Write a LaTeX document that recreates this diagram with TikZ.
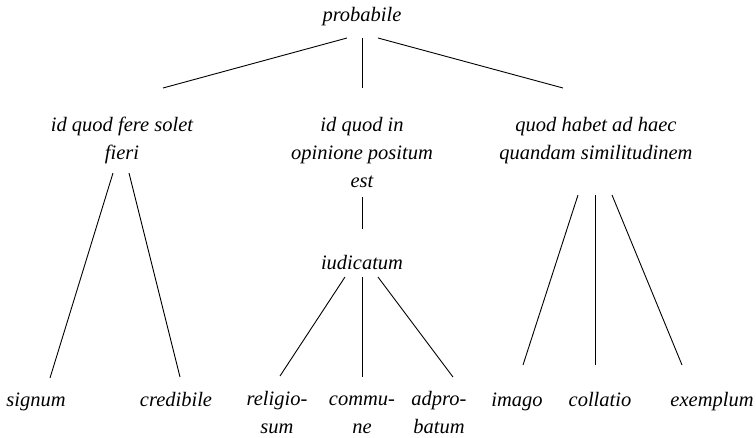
\documentclass[tikz,border=0pt]{standalone}
\usepackage{fontspec}
\setmainfont{Liberation Serif}
\usetikzlibrary{calc}
\tikzset{
  lbl/.style={inner sep=0pt, outer sep=0pt, anchor=base, align=center,
    font=\fontsize{20.5}{28}\selectfont\itshape},
  edge/.style={line width=0.9pt, line cap=butt}
}
\begin{document}
\begin{tikzpicture}[x=1pt,y=-1pt]
\useasboundingbox (0,0) rectangle (756,437);
% nodes (anchor base = baseline of the last line)
\node[lbl] (p)  at (362,21)  {probabile};
\node[lbl] (a1) at (122,159) {id quod fere solet\\fieri};
\node[lbl] (a2) at (362,187) {id quod in\\opinione positum\\est};
\node[lbl] (a3) at (596,159) {quod habet ad haec\\quandam similitudinem};
\node[lbl] (j)  at (362,269) {iudicatum};
\node[lbl] (s)  at (36,406)  {signum};
\node[lbl] (c)  at (176,406) {credibile};
\node[lbl] (r)  at (277,433) {religio-\\sum};
\node[lbl] (m)  at (362,433) {commu-\\ne};
\node[lbl] (d)  at (439,433) {adpro-\\batum};
\node[lbl] (i)  at (517,406) {imago};
\node[lbl] (co) at (600,406) {collatio};
\node[lbl] (e)  at (712,406) {exemplum};
% connectors
\draw[edge] ($(p.base)+(-15,17)$) -- ($(a1.base)+(41,-71)$);
\draw[edge] ($(p.base)+(0,17)$)   -- ($(a2.base)+(0,-99)$);
\draw[edge] ($(p.base)+(16,17)$)  -- ($(a3.base)+(-33,-71)$);
\draw[edge] ($(a1.base)+(-9,14)$) -- ($(s.base)+(14,-28)$);
\draw[edge] ($(a1.base)+(7,14)$)  -- ($(c.base)+(4,-29)$);
\draw[edge] ($(a2.base)+(0,10)$)  -- ($(j.base)+(0,-40)$);
\draw[edge] ($(j.base)+(-17,8)$)  -- ($(r.base)+(3,-57)$);
\draw[edge] ($(j.base)+(0,8)$)    -- ($(m.base)+(0,-56)$);
\draw[edge] ($(j.base)+(16,8)$)   -- ($(d.base)+(14,-56)$);
\draw[edge] ($(a3.base)+(-18,36)$) -- ($(i.base)+(6,-41)$);
\draw[edge] ($(a3.base)+(-1,36)$)  -- ($(co.base)+(-5,-41)$);
\draw[edge] ($(a3.base)+(16,36)$)  -- ($(e.base)+(-30,-41)$);
\end{tikzpicture}
\end{document}
